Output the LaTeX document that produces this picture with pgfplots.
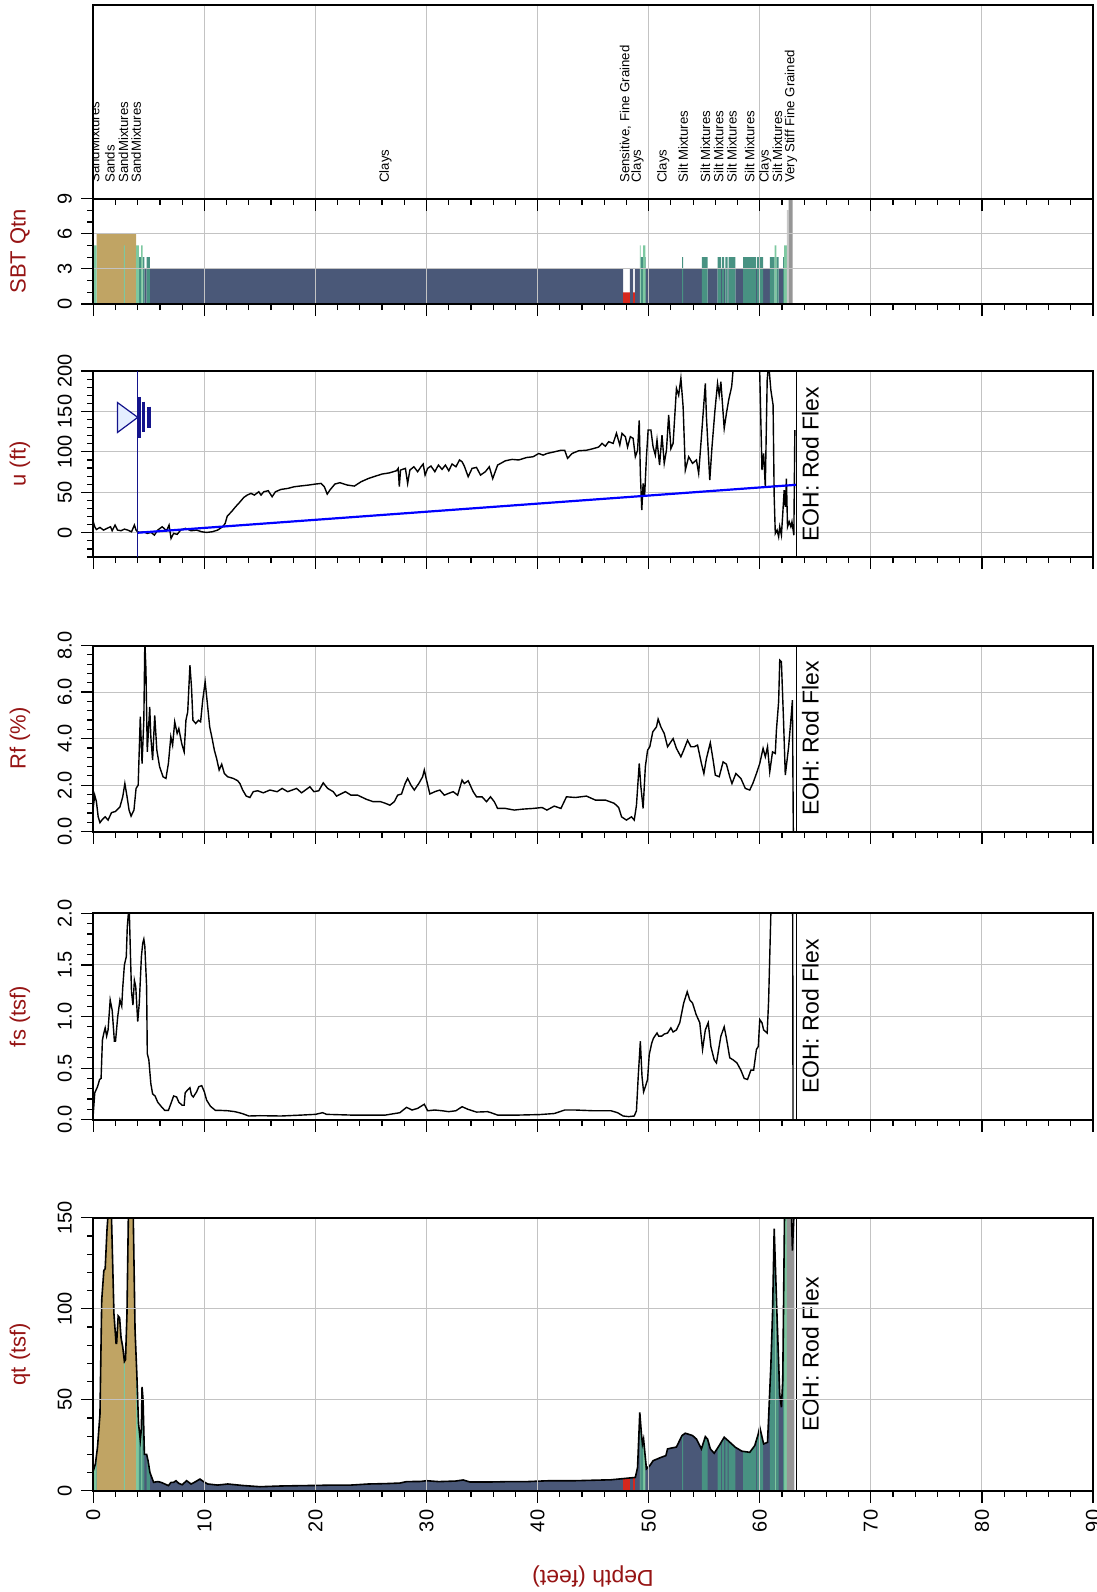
\documentclass[border=0pt]{standalone}
\usepackage{fontspec}
\setmainfont{Liberation Sans}
\usepackage{pgfplots}
\usepackage{pgfplotstable}
\pgfplotsset{compat=1.18}
\definecolor{tanc}{RGB}{192,164,100}
\definecolor{lgc}{RGB}{125,200,160}
\definecolor{tec}{RGB}{72,146,130}
\definecolor{nvc}{RGB}{74,88,120}
\definecolor{rdc}{RGB}{214,40,30}
\definecolor{grc}{RGB}{150,150,150}
\definecolor{lgrc}{RGB}{200,200,200}
\definecolor{labred}{RGB}{150,20,20}
\definecolor{gridc}{RGB}{195,195,195}
\definecolor{wtnavy}{RGB}{20,20,140}
\definecolor{wtfill}{RGB}{228,238,255}

\pgfplotstableread{
d q
0 11
0.19 14.7
0.38 24
0.6 42
0.76 105
0.95 121
1.07 122
1.23 143
1.33 152
1.45 162
1.64 150
1.86 97
2.05 81
2.1 81
2.24 96
2.37 95
2.5 84
2.65 79
2.8 71
2.9 72
3.03 97
3.16 152
3.35 162
3.6 150
3.76 88
3.92 64
4.07 37
4.23 28
4.33 34
4.39 57
4.48 50
4.6 20
4.8 20
4.93 16.5
5.1 10
5.43 4.6
5.8 5
6.1 4.6
6.44 3.7
6.76 2.8
7.0 4.6
7.23 4.6
7.45 5.5
7.7 4
8.0 3.3
8.4 5.5
8.8 3.7
9.1 4.6
9.6 6.4
9.9 5.1
10.3 3.7
11.2 3.1
12.1 3.7
13.4 2.9
15.0 2.2
16.9 2.6
18.8 2.8
20.0 2.9
21.6 3.1
23.2 3.1
24.8 3.7
26.3 3.9
27.6 4.2
28.2 5
29.5 5.1
30.0 5.5
31.1 5
32.6 5.3
33.3 5.9
33.9 4.8
35.8 4.8
37.4 5
39.0 5
41.1 5.5
43.4 5.5
46.6 6
48.8 7.3
49.0 12.8
49.2 43
49.35 31
49.44 25.7
49.54 28.4
49.67 20
49.8 12
50.1 13.8
50.4 16.5
51.1 18.3
51.55 19.3
51.7 23
52.5 24
53.0 30.3
53.3 31.6
53.95 30.3
54.3 28.4
54.75 23
55.1 29.7
55.3 28.4
55.55 23
55.9 20.6
56.35 24.8
56.8 29.4
57.15 27.5
57.8 23.9
58.4 21.7
59.1 21.1
59.55 24.8
59.85 30.8
60.0 34.9
60.35 25.7
60.7 26.6
61.0 68.8
61.15 97
61.3 144
61.55 97
61.8 53
61.95 45.9
62.07 60.6
62.23 152
62.36 165
62.6 158
62.8 165
62.94 132
63.1 155
}\qtdata

\pgfplotstableread{
d u
0 13.6
0.13 7.4
0.28 4
0.6 6.6
0.92 3.3
1.23 5.4
1.55 7.4
1.7 2.5
1.96 9.5
2.18 3.3
2.5 2.5
2.8 4.5
3.1 3.3
3.44 1.2
3.7 9.5
3.85 3.3
4.0 1.2
4.23 0.4
4.55 1.2
4.86 -0.8
5.2 0.4
5.5 -2.9
5.8 3.3
6.2 7.4
6.6 2.5
6.82 9.5
7.0 -7
7.23 -0.8
7.55 -2
7.86 3.3
8.3 5.4
8.8 2.5
9.3 3.3
9.76 1.2
10.2 0.4
10.7 1.2
11.2 3.3
11.65 7.4
11.87 11.5
12.06 20.6
12.44 26
12.8 32
13.2 38
13.55 43.7
13.86 46.6
14.2 48.7
14.5 46.6
14.9 50.7
15.1 46.6
15.35 50.7
15.75 52
16.1 44.5
16.4 50.7
16.9 53.6
17.5 54.8
18.1 56.9
18.75 58
19.4 59
20.0 60.2
20.5 61
20.8 56.9
21.06 47.8
21.3 52.8
21.75 60.2
22.2 61.9
22.86 59
23.5 57.7
24.1 63
24.75 67
25.4 70
26.0 72.6
26.65 74
27.3 76.7
27.45 79.6
27.55 57
27.66 77.5
28.1 79.6
28.3 61
28.5 77.5
28.86 81.6
29.2 75.5
29.5 81.6
29.7 85
29.87 71.3
30.1 79.6
30.4 82.5
30.75 75.5
31.07 83.7
31.4 78.4
31.7 83.7
32.0 76.7
32.3 85
32.65 81.6
32.97 90
33.2 87.8
33.4 82.5
33.75 69.3
34.1 79.6
34.5 80.8
34.86 71.3
35.3 75.5
35.65 81.6
35.96 67
36.4 83.7
37.1 89
37.7 90.7
38.3 90
39.0 93
39.6 94
40.1 98
40.5 96
40.84 98
41.5 100
42.1 102
42.44 102
42.7 92
43.1 98
43.7 101.4
44.4 102
45.0 104
45.5 106
45.8 110.5
46.1 107
46.4 112.6
46.8 110.5
47.1 123
47.4 108.5
47.6 123
47.9 118.8
48.1 106
48.35 118.8
48.6 116.7
48.8 94
49.0 102
49.15 139
49.25 73.4
49.38 28
49.5 61
49.63 44.5
49.8 94
49.95 127
50.2 127
50.4 106
50.6 96
50.75 114.6
50.98 83.7
51.2 120.8
51.4 85.8
51.6 102
51.8 145.6
52.0 104
52.2 110.5
52.5 178.6
52.7 170
52.9 191
53.1 156
53.3 77.5
53.6 94
53.95 85.8
54.3 90
54.5 73.4
54.75 118.8
55.1 184.7
55.2 143.5
55.5 65
55.7 106
55.97 151.8
56.2 184.7
56.35 170
56.5 186.8
56.8 129
57.0 147.6
57.2 164
57.47 180.6
57.6 201
57.8 218
58.5 225
59.87 213
60.0 197
60.2 77.5
60.35 98
60.5 57
60.67 189
60.8 209
61.0 176.5
61.2 158
61.3 44.5
61.4 -1
61.56 3.3
61.7 -5
61.8 7.4
61.95 -3
62.1 30
62.2 52.8
62.3 32
62.4 67
62.5 7.4
62.65 13.6
62.8 7.4
62.9 13.6
63.07 -3
63.16 127
}\udata

\pgfplotstableread{
d r
0 1.07
0.13 1.57
0.28 1.29
0.44 0.64
0.6 0.39
0.82 0.53
1.07 0.64
1.33 0.5
1.64 0.82
2.0 0.87
2.4 1.07
2.65 1.5
2.84 2.07
3.03 1.53
3.22 0.93
3.4 0.67
3.66 0.93
3.85 1.86
4.04 2.0
4.23 4.94
4.39 2.93
4.55 4.8
4.64 8.2
4.74 6.94
4.86 3.43
5.08 5.36
5.18 4.08
5.34 3.08
5.53 5.0
5.72 3.5
5.97 2.79
6.28 2.36
6.54 2.29
6.76 2.93
6.98 4.08
7.14 3.72
7.33 4.72
7.55 4.22
7.7 4.43
7.96 3.79
8.18 3.43
8.34 4.79
8.5 5.15
8.7 7.15
8.84 6.22
8.97 4.79
9.22 4.65
9.47 4.79
9.66 4.72
9.85 5.65
10.07 6.44
10.3 5.36
10.48 4.5
10.7 4.0
10.9 3.5
11.1 3.15
11.33 2.65
11.56 2.9
11.8 2.5
12.1 2.36
12.6 2.29
13.0 2.19
13.2 2.07
13.45 1.79
13.77 1.53
14.1 1.47
14.4 1.72
14.8 1.76
15.3 1.67
15.9 1.79
16.55 1.72
17.0 1.86
17.5 1.72
18.3 1.86
18.75 1.67
19.5 1.93
19.86 1.72
20.3 1.76
20.7 2.1
21.1 1.86
21.6 1.72
21.9 1.53
22.7 1.72
23.2 1.57
23.8 1.57
24.6 1.39
25.2 1.29
25.86 1.29
26.3 1.22
26.7 1.14
27.1 1.29
27.4 1.57
27.75 1.62
28.07 2.07
28.3 2.29
28.6 2.0
28.9 1.79
29.3 2.07
29.65 2.36
29.8 2.65
30.0 2.22
30.3 1.62
30.75 1.72
31.2 1.79
31.6 1.57
32.0 1.65
32.4 1.72
32.8 1.57
33.2 2.22
33.4 2.07
33.75 2.19
34.2 1.72
34.5 1.5
35.0 1.5
35.4 1.29
35.76 1.5
36.1 1.29
36.4 1.0
37.1 1.0
37.9 0.93
38.65 0.97
39.6 1.0
40.4 1.04
40.84 0.93
41.5 1.1
42.1 1.0
42.6 1.5
43.4 1.47
44.4 1.53
45.2 1.36
46.1 1.36
46.9 1.22
47.3 1.04
47.56 0.64
48.0 0.5
48.45 0.64
48.7 0.5
48.9 1.14
49.15 2.93
49.3 1.93
49.5 1.0
49.7 2.79
49.9 3.5
50.1 3.65
50.37 4.29
50.7 4.5
50.85 4.84
51.1 4.5
51.4 4.22
51.7 3.65
52.2 4.0
52.5 3.58
52.9 3.22
53.15 3.5
53.5 3.93
53.8 3.65
54.1 3.65
54.4 3.72
54.75 2.93
54.97 2.5
55.2 3.15
55.55 3.82
55.8 3.08
56.0 2.43
56.35 2.36
56.7 3.0
57.0 2.9
57.3 2.36
57.5 2.07
57.85 2.5
58.3 2.29
58.7 1.86
59.1 1.79
59.4 2.1
59.7 2.5
60.0 2.93
60.3 3.58
60.5 3.22
60.7 3.65
60.9 2.57
61.15 3.43
61.4 3.36
61.5 4.36
61.7 5.58
61.8 7.37
61.95 7.3
62.14 4.79
62.3 2.43
62.6 3.65
62.8 4.79
62.94 5.65
63.03 -0.5
}\rfdata

\pgfplotstableread{
d f
0 0.06
0.13 0.26
0.38 0.32
0.57 0.39
0.7 0.4
0.82 0.77
0.95 0.84
1.07 0.89
1.2 0.81
1.33 0.87
1.52 1.16
1.7 1.06
1.9 0.76
2.0 0.76
2.2 1.0
2.4 1.16
2.56 1.1
2.65 1.28
2.8 1.5
2.97 1.58
3.06 1.87
3.16 2.0
3.25 1.99
3.35 1.58
3.44 1.24
3.57 1.11
3.7 1.35
3.82 1.29
4.0 0.95
4.14 1.13
4.33 1.58
4.45 1.71
4.55 1.75
4.64 1.68
4.8 1.29
4.86 0.64
5.0 0.58
5.18 0.35
5.34 0.25
5.56 0.23
5.8 0.17
6.1 0.13
6.44 0.09
6.76 0.09
7.0 0.16
7.23 0.23
7.5 0.22
7.7 0.17
8.0 0.14
8.18 0.14
8.27 0.26
8.5 0.29
8.7 0.31
8.84 0.24
9.0 0.22
9.3 0.27
9.5 0.32
9.76 0.33
10.0 0.27
10.2 0.19
10.55 0.13
11.0 0.09
11.5 0.09
12.1 0.087
12.76 0.078
13.4 0.06
14.0 0.036
15.0 0.039
16.9 0.036
18.75 0.045
20.0 0.052
20.65 0.068
21.0 0.052
23.2 0.045
25.1 0.045
26.3 0.045
27.6 0.068
28.2 0.12
28.7 0.094
29.2 0.11
29.8 0.15
30.1 0.087
30.75 0.094
31.4 0.087
32.0 0.078
32.65 0.087
33.2 0.126
33.75 0.1
34.5 0.074
35.5 0.078
35.8 0.068
36.4 0.045
38.3 0.045
40.2 0.05
41.5 0.06
42.44 0.094
43.4 0.094
45.0 0.087
46.6 0.087
47.2 0.068
47.7 0.036
48.2 0.03
48.7 0.036
48.9 0.087
49.06 0.42
49.25 0.76
49.4 0.42
49.54 0.27
49.7 0.32
49.9 0.39
50.05 0.63
50.27 0.74
50.43 0.79
50.75 0.84
50.9 0.81
51.17 0.81
51.4 0.83
51.7 0.84
52.0 0.89
52.2 0.85
52.5 0.87
52.8 0.94
53.15 1.13
53.47 1.24
53.7 1.16
53.95 1.13
54.27 1.02
54.6 0.94
54.85 0.68
55.1 0.87
55.36 0.94
55.6 0.71
55.9 0.58
56.1 0.55
56.5 0.81
56.8 0.9
57.0 0.79
57.3 0.6
57.6 0.58
57.95 0.55
58.3 0.48
58.6 0.4
58.9 0.39
59.2 0.48
59.45 0.48
59.7 0.68
59.87 0.71
60.0 0.97
60.2 0.94
60.35 0.87
60.67 0.84
60.8 1.16
61.0 2.0
61.15 2.6
62.0 3.2
62.95 3.0
63.0 -0.2
}\fsdata

\pgfplotsset{
  /pgf/number format/assume math mode=true,
  cpt/.style={
    scale only axis, width=499.85pt,
    anchor=south west,
    xmin=0, xmax=90,
    xtick={0,10,...,90}, minor x tick num=4,
    xtick pos=bottom, ytick pos=left,
    tick align=outside,
    major tick length=6pt, minor tick length=3pt,
    every tick/.style={black, line width=0.6pt},
    axis line style={line width=1pt},
    grid=major, major grid style={gridc, line width=0.55pt},
    tick label style={font=\fontsize{10}{12}\selectfont},
    yticklabel style={rotate=90, anchor=south, inner sep=4.5pt},
    every axis y label/.style={at={(axis description cs:-0.0733,0.5)}, rotate=90, anchor=center, font=\fontsize{11}{13}\selectfont, text=labred},
  },
}
\tikzset{eoh/.style={font=\fontsize{11.5}{13}\selectfont, rotate=90, anchor=center, inner sep=0pt}}

\begin{document}
\begin{tikzpicture}
% ---------------- SBT panel
\begin{axis}[cpt, at={(46.65pt,-152pt)}, height=52.75pt,
  ymin=0, ymax=9, ytick={0,3,6,9}, minor y tick num=2, axis on top,
  xticklabels={}, ylabel={SBT Qtn}]
\addplot[const plot, fill=tanc, draw=none] coordinates {(0,0) (0.3,6) (3.85,0) (90,0)} \closedcycle;
\addplot[const plot, fill=nvc, draw=none] coordinates {(0,0) (4.6,3) (4.8,0) (5.1,3) (47.7,0) (48.3,3) (48.6,0) (48.75,3) (49.2,0) (49.7,3) (53.0,0) (53.1,3) (54.8,0) (55.3,3) (56.2,0) (56.5,3) (56.6,0) (56.8,3) (56.9,0) (57.1,3) (57.2,0) (57.8,3) (58.5,0) (59.65,3) (59.75,0) (60.3,3) (60.9,0) (61.7,3) (62.1,0) (90,0)} \closedcycle;
\addplot[const plot, fill=tec, draw=none] coordinates {(0,0) (4.1,4) (4.3,0) (4.45,4) (4.6,0) (4.8,4) (5.1,0) (49.28,4) (49.5,0) (49.7,4) (49.75,0) (53.0,4) (53.1,0) (54.8,4) (55.3,0) (56.2,4) (56.5,0) (56.6,4) (56.8,0) (56.9,4) (57.1,0) (57.2,4) (57.8,0) (58.5,4) (59.65,0) (59.75,4) (60.3,0) (60.9,4) (61.35,0) (61.5,4) (61.7,0) (62.1,4) (62.2,0) (90,0)} \closedcycle;
\addplot[const plot, fill=lgc, draw=none] coordinates {(0,5) (0.3,0) (2.75,5) (2.85,0) (3.85,5) (4.1,0) (4.3,5) (4.45,0) (49.2,5) (49.28,0) (49.5,5) (49.7,0) (61.35,5) (61.5,0) (62.2,5) (62.45,0) (90,0)} \closedcycle;
\addplot[const plot, fill=rdc, draw=none] coordinates {(0,0) (47.7,1) (48.3,0) (48.6,1) (48.75,0) (90,0)} \closedcycle;
\addplot[const plot, fill=lgrc, draw=none] coordinates {(0,0) (62.45,8) (62.6,0) (90,0)} \closedcycle;
\addplot[const plot, fill=grc, draw=none] coordinates {(0,0) (62.6,9) (62.95,0) (90,0)} \closedcycle;
\end{axis}
% ---------------- label panel
\begin{axis}[cpt, at={(46.65pt,-99.25pt)}, height=96.75pt,
  ymin=0, ymax=1, ytick=\empty, xticklabels={}]
\addplot[draw=none] coordinates {(0,0) (90,1)};
\begin{scope}
\clip (axis cs:0,0) rectangle (axis cs:90,1);
\begin{scope}[every node/.style={rotate=90, anchor=west, inner sep=0pt, font=\fontsize{6.6}{7}\selectfont}]
\node at (axis cs:0.12,0.08) {SandMixtures};
\node at (axis cs:1.5,0.08) {Sands};
\node at (axis cs:2.7,0.08) {SandMixtures};
\node at (axis cs:3.85,0.08) {SandMixtures};
\node at (axis cs:26.3,0.08) {Clays};
\node at (axis cs:47.9,0.08) {Sensitive, Fine Grained};
\node at (axis cs:49.0,0.08) {Clays};
\node at (axis cs:51.3,0.08) {Clays};
\node at (axis cs:53.1,0.08) {Silt Mixtures};
\node at (axis cs:55.1,0.08) {Silt Mixtures};
\node at (axis cs:56.3,0.08) {Silt Mixtures};
\node at (axis cs:57.5,0.08) {Silt Mixtures};
\node at (axis cs:59.1,0.08) {Silt Mixtures};
\node at (axis cs:60.5,0.08) {Clays};
\node at (axis cs:61.6,0.08) {Silt Mixtures};
\node at (axis cs:62.8,0.08) {Very Stiff Fine Grained};
\end{scope}
\end{scope}
\end{axis}
% ---------------- u panel
\begin{axis}[cpt, at={(46.65pt,-278.5pt)}, height=93pt,
  ymin=-30, ymax=200, ytick={-50,0,50,...,200}, minor y tick num=4,
  xticklabels={}, ylabel={u (ft)}]
\addplot[black, line width=0.7pt] table[x=d, y=u] {\udata};
\addplot[blue, line width=1.1pt] coordinates {(4,0) (63.3,59.3)};
\draw[wtnavy, line width=0.6pt] (axis cs:4,-30) -- (axis cs:4,200);
\draw[wtnavy, fill=wtfill, line width=0.6pt] (axis cs:2.18,161) -- (axis cs:4.0,142.7) -- (axis cs:2.18,124) -- cycle;
\draw[wtnavy, line width=1.6pt] (axis cs:4.14,168) -- (axis cs:4.14,117.5);
\draw[wtnavy, line width=1.6pt] (axis cs:4.55,162) -- (axis cs:4.55,124);
\draw[wtnavy, line width=1.6pt] (axis cs:5.02,156) -- (axis cs:5.02,130);
\draw[black, line width=0.5pt] (axis cs:63.3,-30) -- (axis cs:63.3,200);
\node[eoh] at (axis cs:64.55,85) {EOH: Rod Flex};
\end{axis}
% ---------------- Rf panel
\begin{axis}[cpt, at={(46.65pt,-415.85pt)}, height=93.1pt,
  ymin=0, ymax=8, ytick={0,2,...,8}, minor y tick num=4,
  yticklabel style={/pgf/number format/.cd, fixed, fixed zerofill, precision=1},
  xticklabels={}, ylabel={Rf (\%)}]
\addplot[black, line width=0.7pt] table[x=d, y=r] {\rfdata};
\draw[black, line width=0.5pt] (axis cs:63.3,0) -- (axis cs:63.3,8);
\node[eoh] at (axis cs:64.55,4) {EOH: Rod Flex};
\end{axis}
% ---------------- fs panel
\begin{axis}[cpt, at={(46.65pt,-559.85pt)}, height=103.2pt,
  ymin=0, ymax=2, ytick={0,0.5,...,2}, minor y tick num=4,
  yticklabel style={/pgf/number format/.cd, fixed, fixed zerofill, precision=1},
  xticklabels={}, ylabel={fs (tsf)}]
\addplot[black, line width=0.7pt] table[x=d, y=f] {\fsdata};
\draw[black, line width=0.5pt] (axis cs:63.3,0) -- (axis cs:63.3,2);
\node[eoh] at (axis cs:64.55,1) {EOH: Rod Flex};
\end{axis}
% ---------------- qt panel
\begin{axis}[cpt, at={(46.65pt,-745.35pt)}, height=136.5pt,
  ymin=0, ymax=150, ytick={0,50,100,150}, minor y tick num=4, axis on top,
  xticklabel style={rotate=90, anchor=east},
  ylabel={qt (tsf)}]
% soil-type zones (same depths as the SBT panel), then white above the qt trace
\addplot[const plot, fill=nvc, draw=none] coordinates {(0,200) (63.1,0) (90,0)} \closedcycle;
\addplot[const plot, fill=tanc, draw=none] coordinates {(0,0) (0.3,200) (2.75,0) (2.85,200) (3.85,0) (90,0)} \closedcycle;
\addplot[const plot, fill=lgc, draw=none] coordinates {(0,200) (0.3,0) (2.75,200) (2.85,0) (3.85,200) (4.1,0) (4.3,200) (4.45,0) (49.2,200) (49.28,0) (49.5,200) (49.7,0) (61.35,200) (61.5,0) (62.2,200) (62.45,0) (90,0)} \closedcycle;
\addplot[const plot, fill=tec, draw=none] coordinates {(0,0) (4.1,200) (4.3,0) (4.45,200) (4.6,0) (4.8,200) (5.1,0) (49.28,200) (49.5,0) (53.0,200) (53.1,0) (54.8,200) (55.3,0) (56.2,200) (56.5,0) (56.6,200) (56.8,0) (56.9,200) (57.1,0) (57.2,200) (57.8,0) (58.5,200) (59.65,0) (59.75,200) (60.3,0) (60.9,200) (61.35,0) (61.5,200) (61.7,0) (62.1,200) (62.2,0) (90,0)} \closedcycle;
\addplot[const plot, fill=rdc, draw=none] coordinates {(0,0) (47.7,200) (48.3,0) (48.6,200) (48.75,0) (90,0)} \closedcycle;
\addplot[const plot, fill=grc, draw=none] coordinates {(0,0) (62.45,200) (63.1,0) (90,0)} \closedcycle;
\addplot[fill=white, draw=none] table[x=d, y=q] {\qtdata} |- (axis cs:0,300) -- cycle;
\addplot[black, line width=0.8pt] table[x=d, y=q] {\qtdata};
\draw[black, line width=0.5pt] (axis cs:63.3,0) -- (axis cs:63.3,150);
\node[eoh] at (axis cs:64.55,75) {EOH: Rod Flex};
\end{axis}
\node[rotate=180, font=\fontsize{11.5}{13}\selectfont, text=labred] at (296.5pt,-788pt) {Depth (feet)};
\pgfresetboundingbox
\useasboundingbox (0,0) rectangle (548.5pt,-796pt);
\end{tikzpicture}
\end{document}
